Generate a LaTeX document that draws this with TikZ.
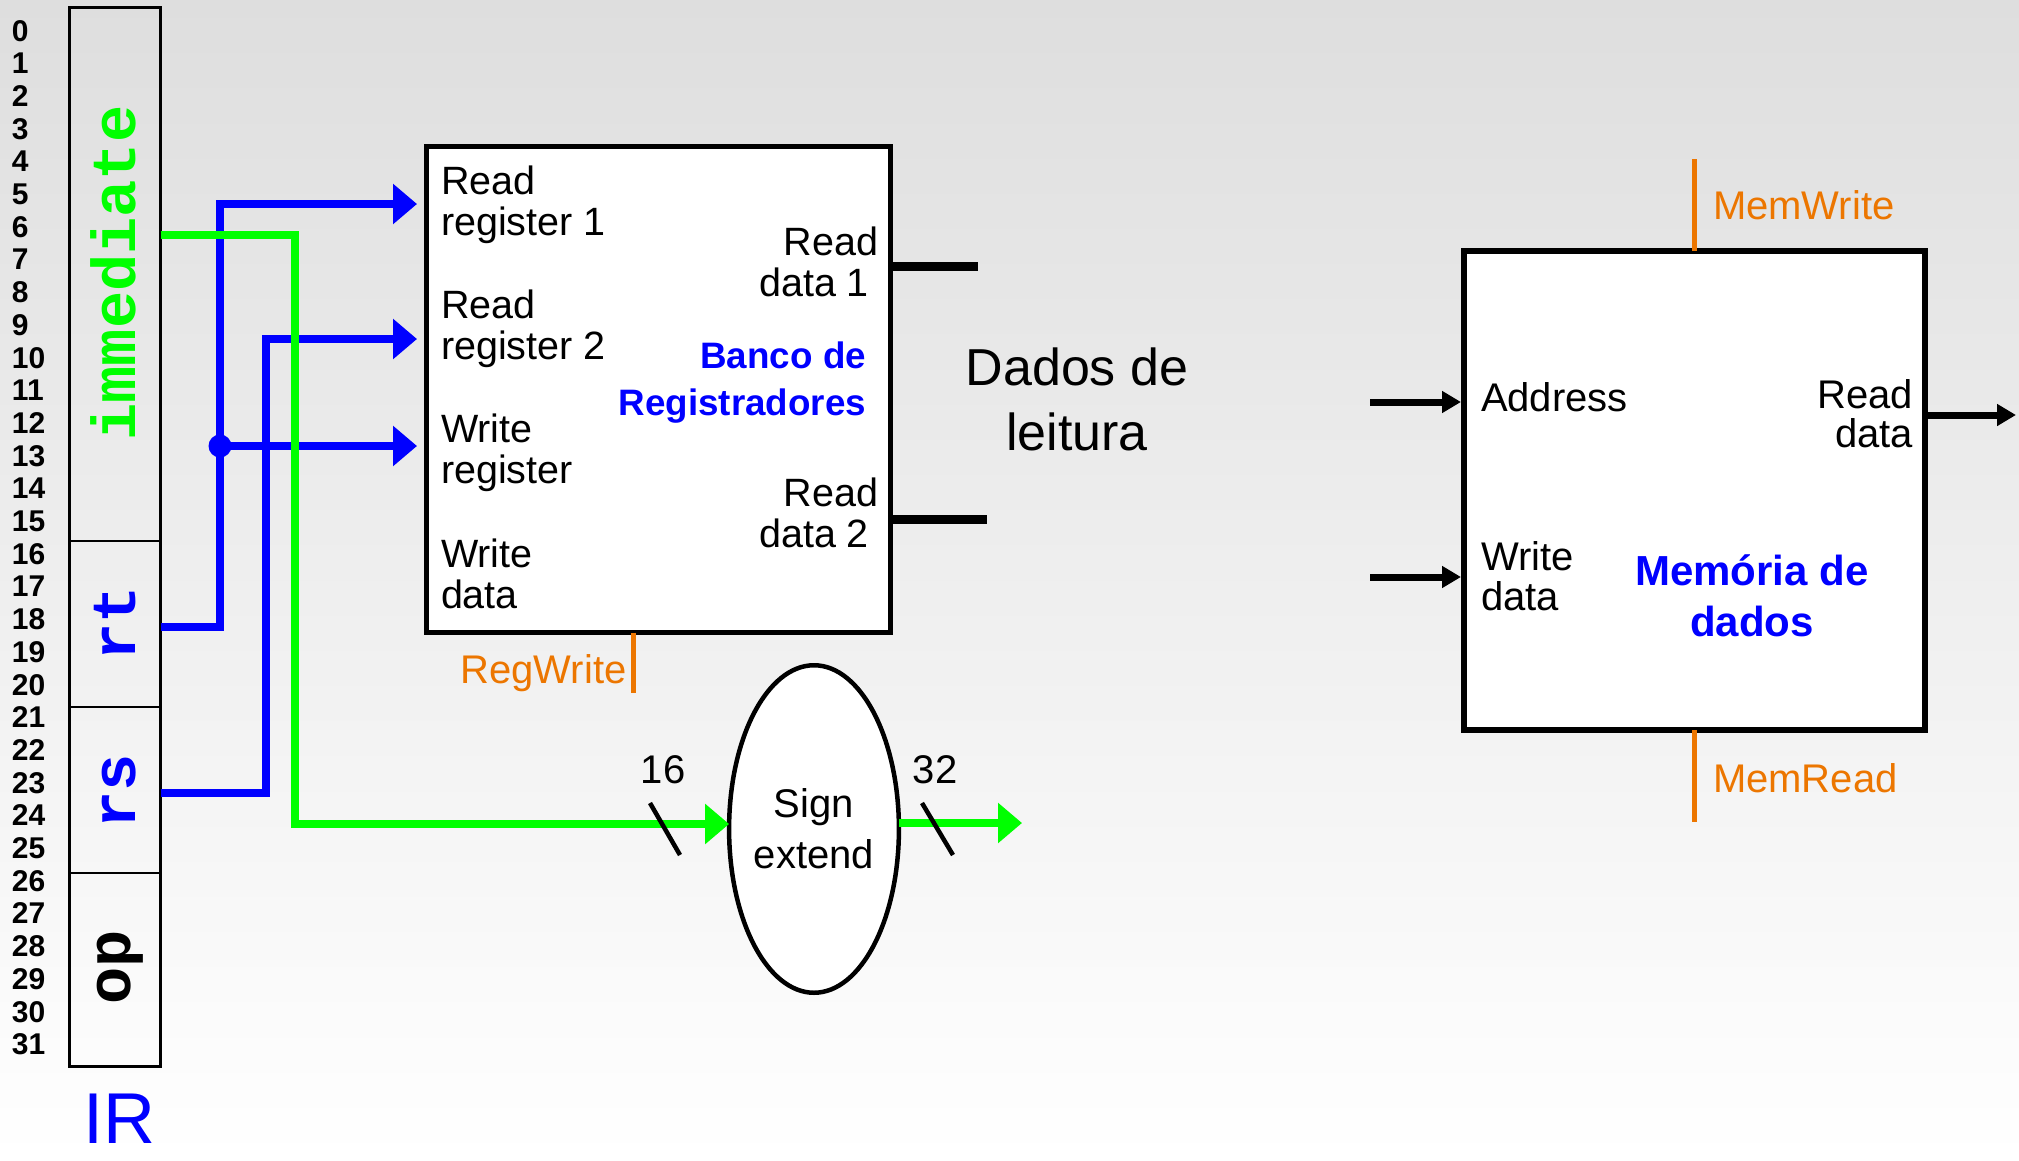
\documentclass[tikz,border=0pt]{standalone}
\usepackage{fontspec}
\setmainfont{Liberation Sans}
\newfontfamily\codefont{Liberation Mono}
\usetikzlibrary{arrows.meta,shapes.geometric}

\definecolor{wireblue}{RGB}{0,0,255}
\definecolor{wiregreen}{RGB}{0,255,0}
\definecolor{ctrlorange}{RGB}{236,118,0}
\definecolor{bgtop}{RGB}{222,222,222}

\begin{document}
\begin{tikzpicture}[x=1pt, y=-1pt,
  every node/.style={inner sep=0pt, outer sep=0pt},
  txt/.style={font=\fontsize{40}{40}\selectfont},
  rftxt/.style={font=\fontsize{39.5}{41}\selectfont},
  bitnum/.style={font=\fontsize{30}{30}\selectfont\bfseries, anchor=base west},
  fieldbox/.style={draw, line width=2.5pt, minimum width=91.4pt},
  fieldname/.style={rotate=90, anchor=base, font=\codefont\bfseries\fontsize{62}{62}\selectfont},
  unitbox/.style={draw, fill=white, line width=5pt},
  bluewire/.style={draw=wireblue, line width=8pt},
  greenwire/.style={draw=wiregreen, line width=8pt},
  bigtip/.style={-{Triangle[length=24pt,width=39pt]}},
  blackwire/.style={draw=black, line width=7pt, -{Triangle[length=19pt,width=21pt]}},
  ctrl/.style={draw=ctrlorange, line width=5.5pt},
  ctrltxt/.style={text=ctrlorange, font=\fontsize{40}{40}\selectfont},
  unitname/.style={text=wireblue, font=\bfseries\fontsize{36.8}{46.7}\selectfont},
  slash/.style={draw, line width=4.5pt},
]
% background
\shade[top color=bgtop, bottom color=white] (0,0) rectangle (2019,1160);
\useasboundingbox (0,0) rectangle (2019,1160);

% ---------------- instruction register ----------------
% (multi-line nodes are placed by the baseline of their last line)
\foreach \i in {0,...,31}
  \node[bitnum] (bit\i) at (12,{41+32.7*\i}) {\i};

\node[fieldbox, minimum height=533.3pt] (immf) at (115,274.35) {};
\node[fieldbox, minimum height=166pt]   (rtf)  at (115,624) {};
\node[fieldbox, minimum height=166pt]   (rsf)  at (115,790) {};
\node[fieldbox, minimum height=193.5pt] (opf)  at (115,969.75) {};

\node[fieldname, text=wiregreen] (immname) at (135,273) {immediate};
\node[fieldname, text=wireblue]  (rtname)  at (135,623) {rt};
\node[fieldname, text=wireblue]  (rsname)  at (135,791) {rs};
\node[fieldname]                 (opname)  at (130,967) {op};

\node[text=wireblue, font=\fontsize{72}{72}\selectfont, anchor=base] (irname) at (119,1143) {IR};

% ---------------- register file ----------------
\node[unitbox, minimum width=464.1pt, minimum height=486.3pt] (rf) at (658.75,389.35) {};

\node[rftxt, anchor=base west, align=left] (lrr1) at (441,235)   {Read\\register 1};
\node[rftxt, anchor=base west, align=left] (lrr2) at (441,359.5) {Read\\register 2};
\node[rftxt, anchor=base west, align=left] (lwr)  at (441,483.5) {Write\\register};
\node[rftxt, anchor=base west, align=left] (lwd)  at (441,608)   {Write\\data};
\node[rftxt, anchor=base east, align=right] (lrd1) at (878,296.7) {Read\\data 1\hspace*{9pt}};
\node[rftxt, anchor=base east, align=right] (lrd2) at (878,547.3) {Read\\data 2\hspace*{9pt}};
\node[unitname, anchor=base east, align=right] (rfname) at (866,415) {Banco de\\Registradores};

\coordinate (rd1) at (rf.east |- 0,266.7);
\coordinate (rd2) at (rf.east |- 0,519.5);
\draw[line width=9pt] (rd1) -- ++(87,0);
\draw[line width=9pt] (rd2) -- ++(96,0);

\coordinate (regw) at (633.3,693);
\draw[ctrl] (rf.south -| regw) -- (regw);
\node[ctrltxt, anchor=base east] (regwname) at (626.5,683.3) {RegWrite};

% register selectors
\coordinate (pRR1) at (rf.west |- 0,204);
\coordinate (pRR2) at (rf.west |- 0,339);
\coordinate (pWR)  at (rf.west |- 0,446);
\coordinate (rtout) at (rtf.east |- 0,627);
\coordinate (rsout) at (rsf.east |- 0,793);
\coordinate (jn) at (220,446);

\draw[bluewire, bigtip, shorten >=9.7pt] (rtout) -| (220,204) -- (pRR1);
\draw[bluewire, bigtip, shorten >=9.7pt] (jn) -- (pWR);
\fill[wireblue] (jn) circle (11.5);
\draw[bluewire, bigtip, shorten >=9.7pt] (rsout) -| (266,339) -- (pRR2);

% ---------------- sign extension ----------------
\node[draw, ellipse, fill=white, line width=4.5pt, minimum width=151.5pt,
      minimum height=327.5pt, align=center, font=\fontsize{40}{51}\selectfont] (se) at (814,829) {Sign\\extend};

\coordinate (immout) at (immf.east |- 0,235);
\draw[greenwire, bigtip] (immout) -| (295,824) -- (se.west |- 0,824);
\coordinate (seout) at (1022,823);
\draw[greenwire, bigtip] (se.east |- seout) -- (seout);

\draw[slash] (650,803) -- (680,855);
\draw[slash] (922,803) -- (953,855);
\node[txt, anchor=base] (w16) at (663,783) {16};
\node[txt, anchor=base] (w32) at (935,783) {32};

% ---------------- read data label ----------------
\node[font=\fontsize{52}{65}\selectfont, align=center, anchor=base] (dados) at (1077,450) {Dados de\\leitura};

% ---------------- data memory ----------------
\node[unitbox, line width=6pt, minimum width=461pt, minimum height=479pt] (mem) at (1694.5,490.5) {};

\coordinate (mwtop) at (mem.north |- 0,159);
\coordinate (mrbot) at (mem.south |- 0,822);
\draw[ctrl] (mem.north) -- (mwtop);
\draw[ctrl] (mem.south) -- (mrbot);
\node[ctrltxt, anchor=base west] (mwname) at (1713,219.3) {MemWrite};
\node[ctrltxt, anchor=base west] (mrname) at (1713,792) {MemRead};

\node[txt, anchor=base west] (addr) at (1481,411.7) {Address};
\node[txt, anchor=base west, align=left] (wdm) at (1481,610) {Write\\data};
\node[font=\fontsize{40}{39.4}\selectfont, anchor=base east, align=right] (rdm) at (1913,447.7) {Read\\data};
\node[text=wireblue, font=\bfseries\fontsize{42}{51}\selectfont, align=center, anchor=base] (memname) at (1752,636) {Memória de\\dados};

\coordinate (addrin) at (1370,402);
\coordinate (wdin) at (1370,577);
\coordinate (rdout) at (2016,415);
\draw[blackwire, shorten >=3pt] (addrin) -- (mem.west |- addrin);
\draw[blackwire, shorten >=3pt] (wdin) -- (mem.west |- wdin);
\draw[blackwire] (mem.east |- rdout) -- (rdout);
\end{tikzpicture}
\end{document}
